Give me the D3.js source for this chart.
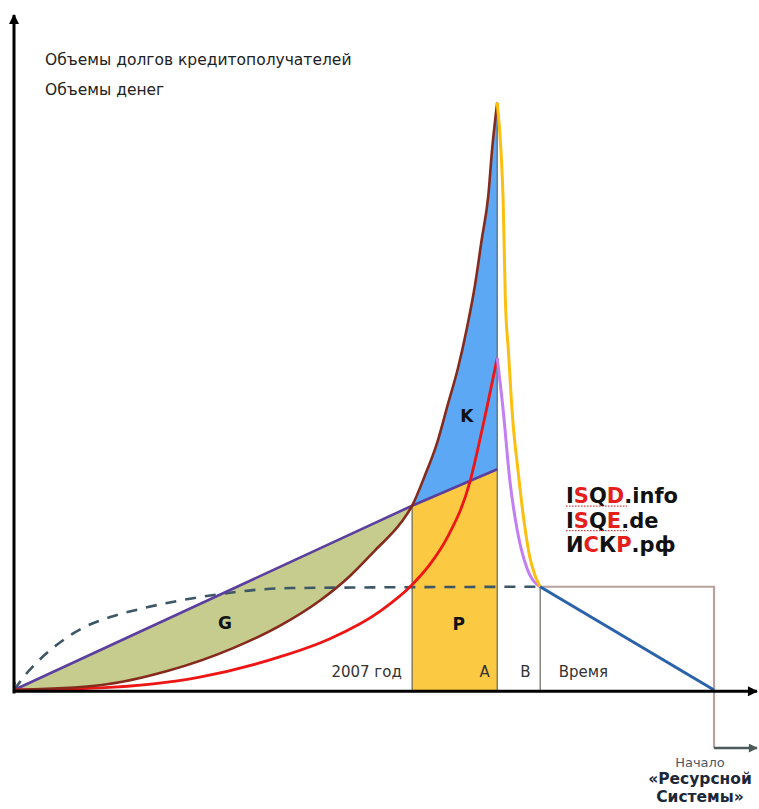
<!DOCTYPE html>
<meta charset="utf-8">
<style>
    body { margin: 0; background: #fff; }
    text { font-family: "DejaVu Sans", Verdana, sans-serif; }
</style>
<script src="https://d3js.org/d3.v7.min.js"></script>
<svg id="chart" width="759" height="809"></svg>
<script>
    // chart units: time 0..100 to the right, volume 0..100 upwards
    const debtCurve = [[0, 0], [11.6, 0.7], [20.7, 2.8], [29.6, 6.2], [35.9, 9.5], [41.4, 13.3], [45.4, 16.9],
        [48.8, 20.7], [52.3, 24.8], [53.8, 27.3], [55.5, 31.7], [57.2, 36.7], [58.6, 42.2], [60.0, 47.7],
        [61.2, 53.6], [62.3, 60.0], [63.2, 66.7], [64.1, 73.3], [64.6, 80.0], [65.3, 87.0]];
    const moneyCurve = [[0, 0], [11.6, 0.3], [25.1, 1.9], [35.9, 4.9], [42.7, 7.6], [49.5, 11.7], [53.8, 15.6],
        [56.2, 18.6], [58.5, 22.5], [61.6, 30.8], [63.4, 39.3], [65.3, 49.2]];
    const creditLine = [[0, 0], [53.8, 27.3], [65.3, 32.7]];
    const dashedCurve = [[0, 0], [1.5, 2.2], [3.1, 4.1], [5.8, 6.7], [9.3, 9.2], [13.0, 10.8], [17.0, 12.0],
        [20.7, 12.9], [24.2, 13.6], [27.8, 14.2], [32.3, 14.8], [37.3, 15.1], [71.1, 15.3]];
    const debtFall = [[65.3, 87.0], [65.8, 80.0], [66.1, 72.6], [66.4, 57.8], [66.8, 50.4], [67.4, 40.0],
        [68.1, 32.6], [68.9, 25.2], [69.7, 19.7], [70.4, 17.0], [71.1, 15.3]];
    const moneyFall = [[65.3, 49.2], [66.1, 41.5], [67.0, 31.1], [68.0, 23.7], [69.3, 18.1], [71.1, 15.3]];
    const resourceLine = [[71.1, 15.3], [94.6, 0]];
    const bracketLine = [[71.1, 15.3], [94.6, 15.3], [94.6, -8.6]];
    const bracketArrow = [[94.6, -8.6], [100.4, -8.6]];

    const year2007 = 53.8, pointA = 65.3, pointB = 71.1;

    const axisTitles = ["Объемы долгов кредитополучателей", "Объемы денег"];
    const timeLabels = ["2007 год", "А", "В", "Время"];
    const areaLabels = ["G", "K", "P"];
    const sites = ["ISQD.info", "ISQE.de", "ИСКР.рф"];
    const startLabels = ["Начало", "«Ресурсной", "Системы»"];

    const svg = d3.select("#chart");

    const x = d3.scaleLinear().domain([0, 100]).range([14, 754]);
    const y = d3.scaleLinear().domain([0, 100]).range([690, 15]);

    const straight = d3.line().x(d => x(d[0])).y(d => y(d[1]));
    const smooth = d3.line().x(d => x(d[0])).y(d => y(d[1])).curve(d3.curveMonotoneX);

    // arrow heads
    const defs = svg.append("defs");
    function arrowHead(id, color, w, h) {
        defs.append("marker")
            .attr("id", id)
            .attr("viewBox", "0 0 10 10")
            .attr("refX", 9).attr("refY", 5)
            .attr("markerUnits", "userSpaceOnUse")
            .attr("markerWidth", w).attr("markerHeight", h)
            .attr("orient", "auto")
            .append("path")
            .attr("d", "M0,0L10,5L0,10z")
            .attr("fill", color);
    }
    arrowHead("axisArrow", "#000", 12, 10);
    arrowHead("greyArrow", "#4d5a5a", 11, 9);
    defs.append("marker")
        .attr("id", "dashArrow")
        .attr("viewBox", "0 0 10 10")
        .attr("refX", 9).attr("refY", 5)
        .attr("markerUnits", "userSpaceOnUse")
        .attr("markerWidth", 9).attr("markerHeight", 9)
        .attr("orient", "auto-start-reverse")
        .append("path")
        .attr("d", "M1,1L9,5L1,9")
        .attr("fill", "none")
        .attr("stroke", "#5a4aa0")
        .attr("stroke-width", 1.6);

    // split the debt curve at 2007 for the G and K areas
    const splitIdx = debtCurve.findIndex(d => d[0] === year2007);
    const debtBefore = debtCurve.slice(0, splitIdx + 1);
    const debtAfter = debtCurve.slice(splitIdx);

    // G: between the credit line and the debt curve
    const gPath = straight(creditLine.slice(0, 2)) +
        smooth(debtBefore.slice().reverse()).replace(/^M/, "L") + "Z";
    svg.append("path").attr("d", gPath).attr("fill", "#c6cc8e");

    // P: gold band under the credit line
    svg.append("path")
        .attr("d", straight([[year2007, 0], creditLine[1], creditLine[2], [pointA, 0]]) + "Z")
        .attr("fill", "#fcc942");

    // K: between debt curve and credit line after 2007
    const kPath = smooth(debtAfter) +
        straight([[pointA, creditLine[2][1]], creditLine[1]]).replace(/^M/, "L") + "Z";
    svg.append("path").attr("d", kPath).attr("fill", "#5ca8f4");

    // thin verticals
    [[year2007, creditLine[1][1]], [pointA, debtCurve[debtCurve.length - 1][1]], [pointB, dashedCurve[dashedCurve.length - 1][1]]]
    .forEach(d => {
        svg.append("path")
            .attr("d", straight([[d[0], 0], d]))
            .attr("stroke", "#5a5a50")
            .attr("stroke-width", 1.1)
            .attr("fill", "none");
    });

    // curves
    svg.append("path").attr("d", smooth(dashedCurve))
        .attr("fill", "none").attr("stroke", "#3d5766").attr("stroke-width", 2.6)
        .attr("stroke-dasharray", "11,9")
        .attr("marker-start", "url(#dashArrow)");

    svg.append("path").attr("d", straight(creditLine))
        .attr("fill", "none").attr("stroke", "#5b3f9e").attr("stroke-width", 2.6);

    svg.append("path").attr("d", smooth(moneyCurve))
        .attr("fill", "none").attr("stroke", "#ee1515").attr("stroke-width", 2.8);

    svg.append("path").attr("d", smooth(debtCurve))
        .attr("fill", "none").attr("stroke", "#862a1c").attr("stroke-width", 2.6);

    svg.append("path").attr("d", smooth(moneyFall))
        .attr("fill", "none").attr("stroke", "#c27ff2").attr("stroke-width", 3);

    svg.append("path").attr("d", smooth(debtFall))
        .attr("fill", "none").attr("stroke", "#fbbf10").attr("stroke-width", 3);

    svg.append("path").attr("d", straight(bracketLine))
        .attr("fill", "none").attr("stroke", "#b8a2a0").attr("stroke-width", 2.2);

    svg.append("path").attr("d", straight(resourceLine))
        .attr("fill", "none").attr("stroke", "#2a62aa").attr("stroke-width", 3);

    svg.append("path").attr("d", straight(bracketArrow))
        .attr("fill", "none").attr("stroke", "#4d5a5a").attr("stroke-width", 2.6)
        .attr("marker-end", "url(#greyArrow)");

    // axes
    svg.append("path").attr("d", straight([[0, -0.2], [100.4, -0.2]]))
        .attr("stroke", "#000").attr("stroke-width", 3).attr("marker-end", "url(#axisArrow)");
    svg.append("path").attr("d", straight([[0, -0.5], [0, 100]]))
        .attr("stroke", "#000").attr("stroke-width", 3).attr("marker-end", "url(#axisArrow)");

    // axis titles
    svg.selectAll(".title")
        .data(axisTitles)
        .join("text")
        .attr("class", "title")
        .attr("x", x(4.2))
        .attr("y", (d, i) => y(92.6 - i * 4.5))
        .attr("font-size", 15.5)
        .attr("fill", "#222")
        .text(d => d);

    // time labels
    const timePos = [[52.4, "end"], [63.6, "middle"], [69.1, "middle"], [73.6, "start"]];
    svg.selectAll(".time")
        .data(timeLabels)
        .join("text")
        .attr("class", "time")
        .attr("x", (d, i) => x(timePos[i][0]))
        .attr("y", y(1.9))
        .attr("text-anchor", (d, i) => timePos[i][1])
        .attr("font-size", 15)
        .attr("fill", "#333")
        .text(d => d);

    // area letters
    const areaPos = [[28.5, 9.0], [61.2, 39.7], [60.1, 8.9]];
    svg.selectAll(".area")
        .data(areaLabels)
        .join("text")
        .attr("class", "area")
        .attr("x", (d, i) => x(areaPos[i][0]))
        .attr("y", (d, i) => y(areaPos[i][1]))
        .attr("text-anchor", "middle")
        .attr("font-size", 17)
        .attr("font-weight", "bold")
        .attr("fill", "#111")
        .text(d => d);

    // site names
    sites.forEach((s, i) => {
        const t = svg.append("text")
            .attr("x", x(74.6))
            .attr("y", y(27.7) + i * 24.5)
            .attr("font-size", 21)
            .attr("font-weight", "bold");
        Array.from(s).forEach((ch, j) => {
            t.append("tspan")
                .attr("fill", (j === 1 || j === 3) ? "#e3201c" : "#111")
                .text(ch);
        });
        if (i < 2) {
            // spell-check squiggle under the first word
            svg.append("line")
                .attr("x1", x(74.6)).attr("x2", x(74.6) + 61)
                .attr("y1", y(27.7) + i * 24.5 + 3).attr("y2", y(27.7) + i * 24.5 + 3)
                .attr("stroke", "#e23a3a").attr("stroke-width", 1.2)
                .attr("stroke-dasharray", "1.5,1.5");
        }
    });

    // start of resource system
    svg.selectAll(".start")
        .data(startLabels)
        .join("text")
        .attr("class", "start")
        .attr("x", x(92.7))
        .attr("y", (d, i) => y(-11.4) + (i === 0 ? 0 : 17.5 + (i - 1) * 17.5))
        .attr("text-anchor", "middle")
        .attr("font-size", (d, i) => i === 0 ? 13 : 15.5)
        .attr("font-weight", (d, i) => i === 0 ? "normal" : "bold")
        .attr("fill", (d, i) => i === 0 ? "#4a5868" : "#1c2838")
        .text(d => d);
</script>
